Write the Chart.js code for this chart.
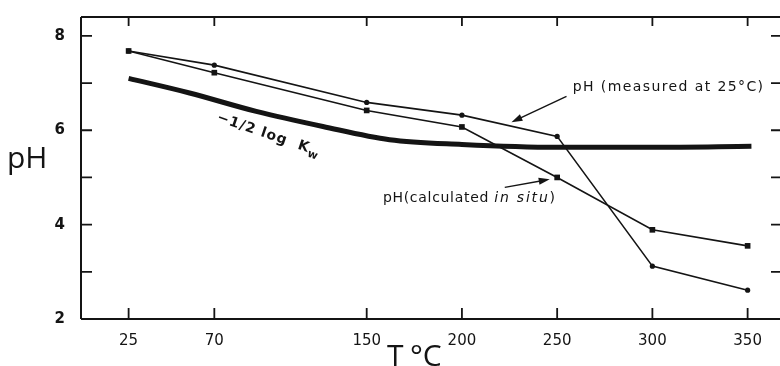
<!DOCTYPE html>
<html>
<head>
<meta charset="utf-8">
<script src="https://cdn.jsdelivr.net/npm/chart.js@4/dist/chart.umd.min.js"></script>
<style>
  html, body { margin: 0; padding: 0; background: #fff; overflow: hidden; }
  #wrap { position: relative; width: 784px; height: 366px; }
</style>
</head>
<body>
<div id="wrap"><canvas id="c"></canvas></div>
<script>
// Temperature ticks (°C) and sampled pH series
const tempTicks   = [25, 70, 150, 200, 250, 300, 350];
const sampleTemps = [25, 70, 150, 200, 250, 300, 350];
const phMeasured  = [7.68, 7.38, 6.59, 6.32, 5.87, 3.12, 2.61];
const phInSitu    = [7.68, 7.22, 6.42, 6.07, 5.00, 3.89, 3.55];
// -1/2 log Kw curve
const kwTemps     = [25, 57, 92, 127, 162, 200, 250, 300, 352];
const halfLogKw   = [7.10, 6.79, 6.40, 6.08, 5.80, 5.70, 5.64, 5.64, 5.66];
const phTicks     = [2, 4, 6, 8];

const INK = "#141414";
const pts = (xs, ys) => xs.map((x, i) => ({ x, y: ys[i] }));

function arrow(ctx, x0, y0, x1, y1) {
  const a = Math.atan2(y1 - y0, x1 - x0);
  const L = 11, W = 3.5;
  ctx.beginPath();
  ctx.moveTo(x0, y0);
  ctx.lineTo(x1 - L * 0.6 * Math.cos(a), y1 - L * 0.6 * Math.sin(a));
  ctx.stroke();
  ctx.beginPath();
  ctx.moveTo(x1, y1);
  ctx.lineTo(x1 - L * Math.cos(a) - W * Math.sin(a), y1 - L * Math.sin(a) + W * Math.cos(a));
  ctx.lineTo(x1 - L * Math.cos(a) + W * Math.sin(a), y1 - L * Math.sin(a) - W * Math.cos(a));
  ctx.closePath();
  ctx.fill();
}

// axis frame, inward ticks, titles and the hand lettered labels
const framePlugin = {
  id: "frame",
  afterDraw(chart) {
    const { ctx, chartArea: a, scales: { x, y } } = chart;
    ctx.save();
    ctx.strokeStyle = INK;
    ctx.fillStyle = INK;
    ctx.lineCap = "butt";

    ctx.lineWidth = 2;
    ctx.beginPath();
    ctx.moveTo(a.left, a.top); ctx.lineTo(a.right, a.top);
    ctx.moveTo(a.left, a.top); ctx.lineTo(a.left, a.bottom);
    ctx.moveTo(a.left, a.bottom); ctx.lineTo(a.right, a.bottom);
    ctx.stroke();

    ctx.lineWidth = 1.8;
    ctx.beginPath();
    tempTicks.forEach((t) => {
      const px = x.getPixelForValue(t);
      ctx.moveTo(px, a.bottom); ctx.lineTo(px, a.bottom - 11);
      ctx.moveTo(px, a.top); ctx.lineTo(px, a.top + 9);
    });
    for (let v = 3; v <= 8; v++) {
      const py = y.getPixelForValue(v);
      ctx.moveTo(a.left, py); ctx.lineTo(a.left + 11, py);
      ctx.moveTo(a.right, py); ctx.lineTo(a.right - 9, py);
    }
    ctx.stroke();

    // axis titles
    ctx.textBaseline = "alphabetic";
    ctx.textAlign = "left";
    ctx.font = '400 30px "Open Sans"';
    ctx.fillText("pH", 7, 168);
    ctx.font = '400 30px "Open Sans"';
    ctx.fillText("T", 387, 366);
    ctx.fillText("°C", 410, 366);

    // measured-at-25°C label
    ctx.lineWidth = 1.4;
    ctx.font = '14px "DejaVu Sans"';
    ctx.letterSpacing = "1.4px";
    ctx.textBaseline = "middle";
    ctx.fillText("pH (measured at 25°C)", x.getPixelForValue(258.2), y.getPixelForValue(6.91));
    arrow(ctx, x.getPixelForValue(254.9), y.getPixelForValue(6.72),
               x.getPixelForValue(226.0), y.getPixelForValue(6.17));

    // in situ label
    let lx = x.getPixelForValue(158.5);
    const ly = y.getPixelForValue(4.55);
    ctx.letterSpacing = "0.7px";
    ctx.fillText("pH(calculated ", lx, ly);
    lx += ctx.measureText("pH(calculated ").width;
    ctx.font = 'italic 14px "DejaVu Sans"';
    ctx.letterSpacing = "1.8px";
    ctx.fillText("in situ", lx, ly);
    lx += ctx.measureText("in situ").width;
    ctx.font = '14px "DejaVu Sans"';
    ctx.fillText(")", lx, ly);
    arrow(ctx, x.getPixelForValue(222.5), y.getPixelForValue(4.79),
               x.getPixelForValue(246.1), y.getPixelForValue(4.96));

    // -1/2 log Kw, lettered along the curve
    ctx.translate(x.getPixelForValue(71), y.getPixelForValue(6.2));
    ctx.rotate(19 * Math.PI / 180);
    ctx.textBaseline = "alphabetic";
    ctx.font = '600 14px "DejaVu Sans"';
    ctx.letterSpacing = "1px";
    const main = "−1/2 log  K";
    ctx.fillText(main, 0, 0);
    const kw = ctx.measureText(main).width;
    ctx.font = '600 11px "DejaVu Sans"';
    ctx.fillText("w", kw, 4);
    ctx.restore();
  },
};

new Chart(document.getElementById("c"), {
  type: "line",
  data: {
    datasets: [
      {
        data: pts(sampleTemps, phMeasured),
        borderColor: INK, backgroundColor: INK, borderWidth: 1.6,
        pointStyle: "circle", pointRadius: 2.6, pointBorderWidth: 0,
        tension: 0,
      },
      {
        data: pts(sampleTemps, phInSitu),
        borderColor: INK, backgroundColor: INK, borderWidth: 1.6,
        pointStyle: "rect", pointRadius: 4, pointBorderWidth: 0,
        tension: 0,
      },
      {
        data: pts(kwTemps, halfLogKw),
        borderColor: INK, borderWidth: 5, pointRadius: 0,
        cubicInterpolationMode: "monotone", borderCapStyle: "butt",
      },
    ],
  },
  options: {
    responsive: true,
    maintainAspectRatio: false,
    animation: false,
    layout: { padding: { top: 14, right: 3, left: 0, bottom: 0 } },
    plugins: { legend: { display: false }, tooltip: { enabled: false } },
    scales: {
      x: {
        type: "linear", min: 0, max: 367,
        afterBuildTicks: (s) => { s.ticks = tempTicks.map((v) => ({ value: v })); },
        afterFit: (s) => { s.height = 47; },
        grid: { display: false }, border: { display: false },
        ticks: { color: INK, font: { family: "DejaVu Sans", size: 15 }, padding: 5, maxRotation: 0 },
      },
      y: {
        type: "linear", min: 2, max: 8.4,
        afterBuildTicks: (s) => { s.ticks = phTicks.map((v) => ({ value: v })); },
        afterFit: (s) => { s.width = 81; },
        grid: { display: false }, border: { display: false },
        ticks: { color: INK, font: { family: "DejaVu Sans", size: 15, weight: "bold" }, padding: 8 },
      },
    },
  },
  plugins: [framePlugin],
});
</script>
</body>
</html>
